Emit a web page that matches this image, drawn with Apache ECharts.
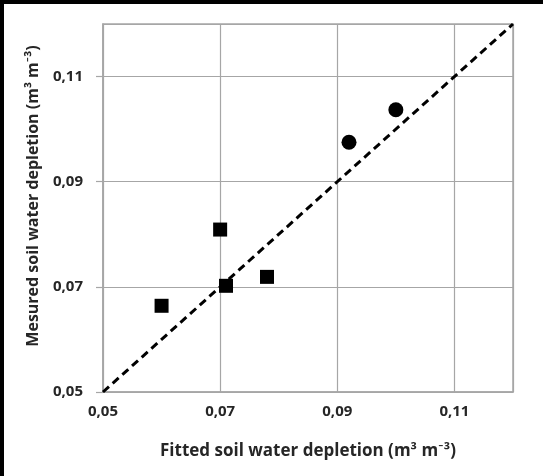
<!DOCTYPE html>
<html><head><meta charset="utf-8">
<script src="https://cdn.jsdelivr.net/npm/echarts@6/dist/echarts.min.js"></script>
<style>html,body{margin:0;padding:0;background:#fff}#c{width:543px;height:476px}</style>
</head><body><div id="c"></div>
<script>
var xTicks = [0.05, 0.07, 0.09, 0.11];
var yTicks = [0.05, 0.07, 0.09, 0.11];
var squareX = [0.060, 0.070, 0.071, 0.078];
var squareY = [0.0664, 0.0809, 0.0702, 0.0719];
var circleX = [0.092, 0.100];
var circleY = [0.0975, 0.1037];
var lineX = [0.05, 0.12];
var lineY = [0.05, 0.12];
var xTitle = 'Fitted soil water depletion (m³ m⁻³)';
var yTitle = 'Mesured soil water depletion (m³ m⁻³)';

function zip(a, b) { return a.map(function (v, i) { return [v, b[i]]; }); }
function fmt(v) { return v.toFixed(2).replace('.', ','); }
function isTick(list, v) { return list.some(function (t) { return Math.abs(t - v) < 1e-6; }); }

var font = '"Open Sans", Lato, sans-serif';
var txt = '#262626';
var gridCol = '#a6a6a6';
var chart = echarts.init(document.getElementById('c'), null, {renderer: 'canvas'});
chart.setOption({
  animation: false,
  backgroundColor: '#fff',
  graphic: [
    {type: 'rect', shape: {x: 0, y: 0, width: 543, height: 4}, style: {fill: '#000'}},
    {type: 'rect', shape: {x: 0, y: 0, width: 4, height: 476}, style: {fill: '#000'}}
  ],
  grid: {left: 103, right: 30, top: 24, bottom: 84, show: true, borderColor: gridCol, borderWidth: 1.5},
  xAxis: {
    type: 'value', min: 0.05, max: 0.12, interval: 0.02,
    name: xTitle, nameLocation: 'middle', nameGap: 51,
    nameTextStyle: {fontFamily: font, fontWeight: 'bold', fontSize: 17, color: txt},
    axisLine: {lineStyle: {color: gridCol, width: 1.5}},
    axisTick: {show: false},
    axisLabel: {fontFamily: font, fontWeight: 'bold', fontSize: 15, color: txt, margin: 12,
      showMaxLabel: false,
      formatter: function (v) { return isTick(xTicks, v) ? fmt(v) : ''; }},
    splitLine: {show: true, lineStyle: {color: gridCol, width: 1.2}}
  },
  yAxis: {
    type: 'value', min: 0.05, max: 0.12, interval: 0.02,
    name: yTitle, nameLocation: 'middle', nameGap: 62, nameRotate: 90,
    nameTextStyle: {fontFamily: font, fontWeight: 'bold', fontSize: 16, color: txt,
      padding: [0, 0, 0, 24]},
    axisLine: {show: true, lineStyle: {color: gridCol, width: 1.5}},
    axisTick: {show: true, length: 7, lineStyle: {color: gridCol, width: 1.2}},
    axisLabel: {fontFamily: font, fontWeight: 'bold', fontSize: 15, color: txt, margin: 20,
      showMaxLabel: false,
      formatter: function (v) { return isTick(yTicks, v) ? fmt(v) : ''; }},
    splitLine: {show: true, lineStyle: {color: gridCol, width: 1.2}}
  },
  series: [
    {type: 'line', data: zip(lineX, lineY), symbol: 'none',
     lineStyle: {color: '#000', width: 3, type: [8, 5]}, z: 1},
    {type: 'scatter', data: zip(squareX, squareY), symbol: 'rect', symbolSize: 14,
     itemStyle: {color: '#000', opacity: 1}, z: 3},
    {type: 'scatter', data: zip(circleX, circleY), symbol: 'circle', symbolSize: 15,
     itemStyle: {color: '#000', opacity: 1}, z: 3}
  ]
});
</script>
</body></html>
